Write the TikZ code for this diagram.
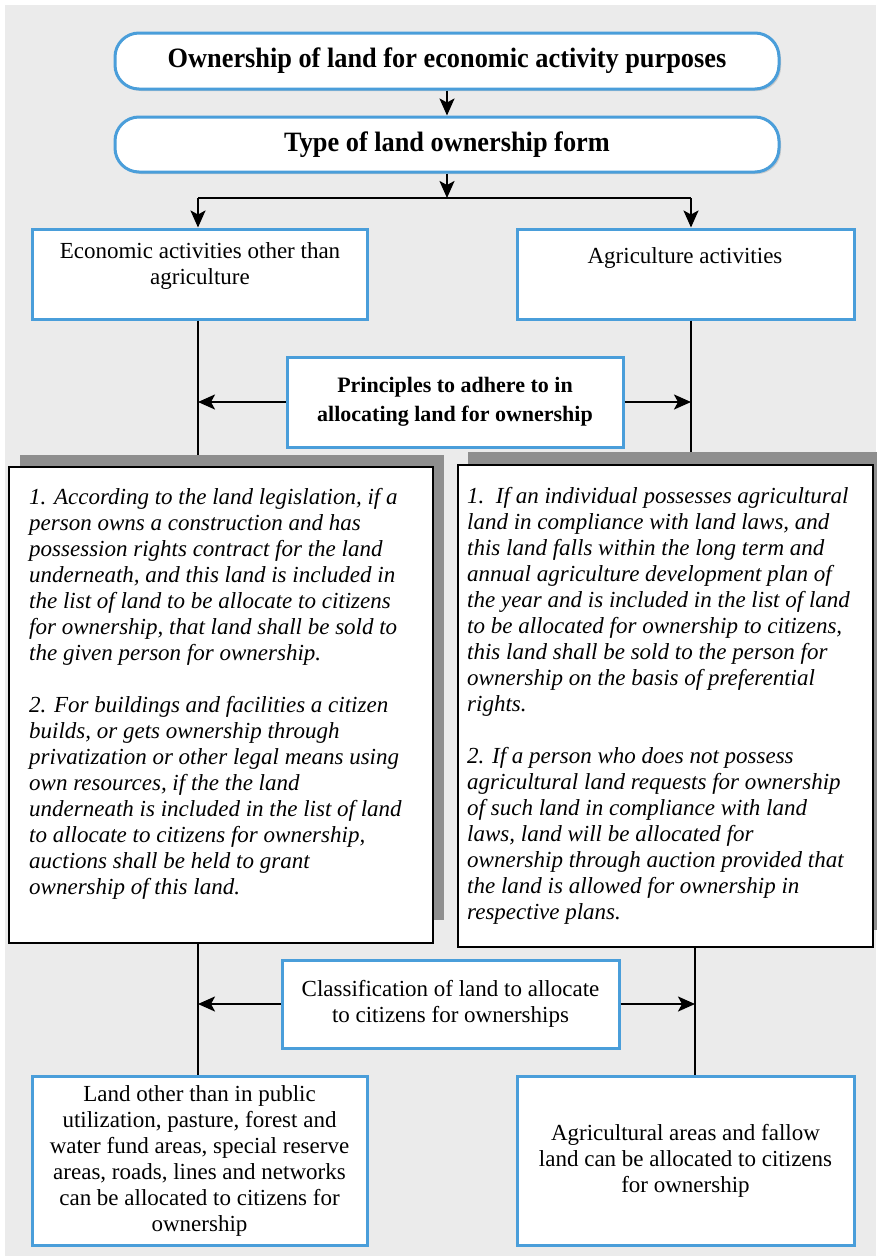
\documentclass[tikz,border=0pt]{standalone}
\usepackage{fontspec}
\setmainfont{Liberation Serif}
\newfontfamily\titlefont[FakeStretch=0.94]{Liberation Serif}
\usetikzlibrary{arrows.meta,shadows}
\definecolor{bgc}{HTML}{EBEBEB}
\definecolor{bluec}{HTML}{4A9EDA}
\definecolor{shc}{HTML}{8E8E8E}
\begin{document}
\begin{tikzpicture}[x=1pt,y=-1pt,
  bluebox/.style={draw=bluec, line width=3pt, fill=white, inner sep=0pt,
    drop shadow={shadow xshift=2pt,shadow yshift=-2pt,opacity=0.3}},
  roundbox/.style={bluebox, rounded corners=24pt},
  shadowbox/.style={fill=shc, draw=none, inner sep=0pt},
  bigbox/.style={draw=black, line width=2.2pt, fill=white, inner sep=0pt},
  txt/.style={align=center, inner sep=0pt, font=\fontsize{23}{26}\selectfont},
  itxt/.style={align=left, inner sep=0pt, font=\itshape\fontsize{23}{26}\selectfont},
  ttl/.style={font=\titlefont\bfseries\fontsize{28}{32}\selectfont},
  ln/.style={line width=2.2pt, draw=black},
  arr/.style={ln, -{Stealth[length=17pt,width=15pt,inset=4pt]}}
]
\useasboundingbox (0,0) rectangle (876,1256);
\fill[white] (0,0) rectangle (876,1256);
\fill[bgc] (5,5) rectangle (876,1256);

% top boxes
\node[roundbox, minimum width=664pt, minimum height=56pt, ttl] (own) at (447,61)
  {Ownership of land for economic activity purposes};
\node[roundbox, minimum width=664pt, minimum height=55pt, ttl] (typ) at (447,144.5)
  {Type of land ownership form};

% activity boxes
\node[bluebox, minimum width=335pt, minimum height=90pt] (econ) at (199.5,274) {};
\node[txt] (econt) at (200,266) {Economic activities other than\\agriculture};
\node[bluebox, minimum width=337pt, minimum height=90pt] (agri) at (685.5,274) {};
\node[txt] (agrit) at (685,258) {Agriculture activities};

% principles
\node[bluebox, minimum width=336pt, minimum height=90pt, align=center,
  font=\bfseries\fontsize{22}{29}\selectfont] (prin) at (455,402)
  {Principles to adhere to in\\allocating land for ownership};

% big boxes with shadows
\node[shadowbox, minimum width=424pt, minimum height=465pt] (lsh) at (232,687.5) {};
\node[bigbox, minimum width=424pt, minimum height=476pt] (lbig) at (221,705) {};
\node[shadowbox, minimum width=412pt, minimum height=478pt] (rsh) at (674,691) {};
\node[bigbox, minimum width=415pt, minimum height=482pt] (rbig) at (665.5,706) {};

\node[itxt, anchor=north west] (ltext) at (29,488) {%
1. According to the land legislation, if a\\
person owns a construction and has\\
possession rights contract for the land\\
underneath, and this land is included in\\
the list of land to be allocate to citizens\\
for ownership, that land shall be sold to\\
the given person for ownership.\\[26pt]
2. For buildings and facilities a citizen\\
builds, or gets ownership through\\
privatization or other legal means using\\
own resources, if the the land\\
underneath is included in the list of land\\
to allocate to citizens for ownership,\\
auctions shall be held to grant\\
ownership of this land.};

\node[itxt, anchor=north west] (rtext) at (467,487) {%
1.\ \ If an individual possesses agricultural\\
land in compliance with land laws, and\\
this land falls within the long term and\\
annual agriculture development plan of\\
the year and is included in the list of land\\
to be allocated for ownership to citizens,\\
this land shall be sold to the person for\\
ownership on the basis of preferential\\
rights.\\[26pt]
2. If a person who does not possess\\
agricultural land requests for ownership\\
of such land in compliance with land\\
laws, land will be allocated for\\
ownership through auction provided that\\
the land is allowed for ownership in\\
respective plans.};

% classification
\node[bluebox, minimum width=337pt, minimum height=88pt, txt] (cls) at (450.5,1004)
  {Classification of land to allocate\\to citizens for ownerships};

% bottom boxes
\node[bluebox, minimum width=335pt, minimum height=169pt, txt] (lland) at (199.5,1160.5)
  {Land other than in public\\utilization, pasture, forest and\\water fund areas, special reserve\\areas, roads, lines and networks\\can be allocated to citizens for\\ownership};
\node[bluebox, minimum width=337pt, minimum height=169pt, txt] (rland) at (685.5,1160.5)
  {Agricultural areas and fallow\\land can be allocated to citizens\\for ownership};

% connectors
\coordinate (j) at (447,198);
\coordinate (jl) at (198,198);
\coordinate (jr) at (691,198);
\coordinate (kl) at (198,1004);
\coordinate (kr) at (695,1004);
\draw[arr] (own) -- (typ);
\draw[arr] (typ) -- (j);
\draw[ln] (jl) -- (jr);
\draw[arr] (jl) -- (jl |- econ.north);
\draw[arr] (jr) -- (jr |- agri.north);
\draw[ln] (econ.south -| jl) -- (jl |- lsh.north);
\draw[ln] (agri.south -| jr) -- (jr |- rsh.north);
\draw[arr] (prin.west) -- (prin.west -| jl);
\draw[arr] (prin.east) -- (prin.east -| jr);
\draw[ln] (lbig.south -| kl) -- (kl |- lland.north);
\draw[ln] (rbig.south -| kr) -- (kr |- rland.north);
\draw[arr] (cls.west) -- (cls.west -| kl);
\draw[arr] (cls.east) -- (cls.east -| kr);
\end{tikzpicture}
\end{document}
